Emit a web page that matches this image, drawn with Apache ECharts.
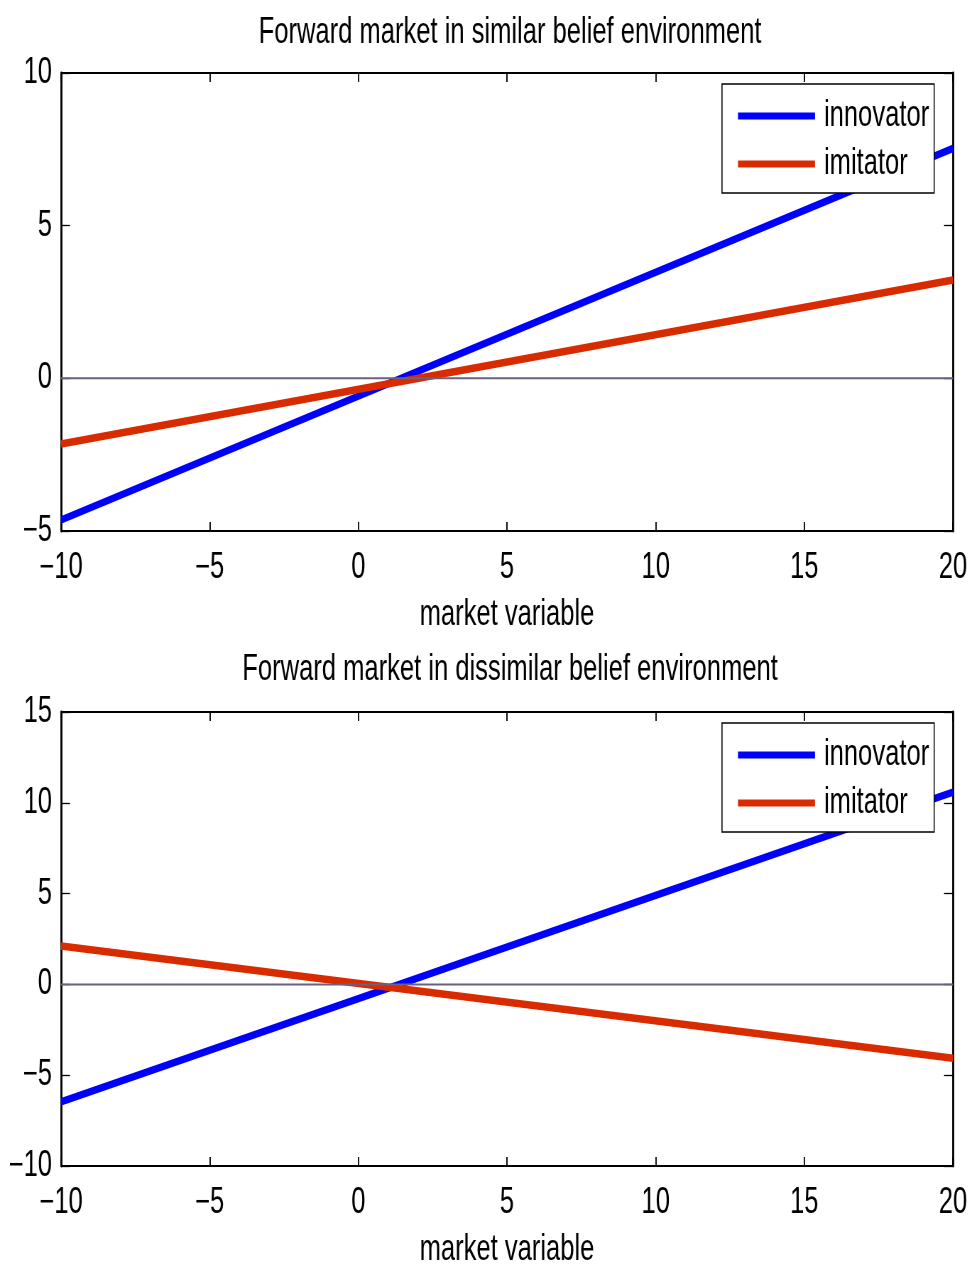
<!DOCTYPE html>
<html>
<head>
<meta charset="utf-8">
<script src="https://cdn.jsdelivr.net/npm/echarts@6/dist/echarts.min.js"></script>
<style>
  html, body { margin: 0; padding: 0; background: #fff; overflow: hidden; width: 972px; height: 1264px; }
  /* The figure uses a condensed face; the canvas is drawn wide and squeezed horizontally. */
  #chart { height: 1264px; transform-origin: 0 0; }
</style>
</head>
<body>
<div id="chart"></div>
<script>
// Market variable range (x) shared by both panels
const xEnds = [-10, 20];

// Panel 1: similar belief environment
const innovatorSimilar = [-4.64, 7.53];
const imitatorSimilar = [-2.15, 3.22];

// Panel 2: dissimilar belief environment
const innovatorDissimilar = [-6.47, 10.59];
const imitatorDissimilar = [2.12, -4.07];

// Reference zero line
const zeroLine = [0, 0];

const titles = [
  'Forward market in similar belief environment',
  'Forward market in dissimilar belief environment'
];
const xName = 'market variable';
const seriesNames = ['innovator', 'imitator'];
const yRanges = [[-5, 10, 5], [-10, 15, 5]];
const xRange = [-10, 20, 5];

// Horizontal condensing factor for the whole figure
const K = 0.71;
const sx = (v) => v / K;
const el = document.getElementById('chart');
el.style.width = sx(972) + 'px';
el.style.transform = 'scaleX(' + K + ')';

const FONT = "'Liberation Sans', Arial, sans-serif";
const FS = 36;
const BLUE = '#0000ff';
const RED = '#d92b00';

const pairs = (ys) => xEnds.map((x, i) => [x, ys[i]]);
const minus = (v) => String(v).replace('-', '\u2212');

const grids = [
  { left: sx(61), right: sx(19), top: 73, height: 458, outerBoundsMode: 'none', containLabel: false },
  { left: sx(61), right: sx(19), top: 712, height: 454, outerBoundsMode: 'none', containLabel: false }
];

const xAxes = [];
const yAxes = [];
grids.forEach((g, gi) => {
  const xTick = { show: true, inside: true, length: 9, lineStyle: { color: '#000', width: sx(1.3) } };
  const yTick = { show: true, inside: true, length: sx(9), lineStyle: { color: '#000', width: 1.3 } };
  const xLine = { show: true, onZero: false, lineStyle: { color: '#000', width: 2 } };
  const yLine = { show: true, onZero: false, lineStyle: { color: '#000', width: sx(2) } };
  xAxes.push({
    type: 'value', gridIndex: gi, position: 'bottom',
    min: xRange[0], max: xRange[1], interval: xRange[2],
    axisLine: xLine, axisTick: xTick, splitLine: { show: false },
    axisLabel: { margin: 19, fontFamily: FONT, fontSize: FS, color: '#000', formatter: minus },
    name: xName, nameLocation: 'middle', nameGap: 66,
    nameTextStyle: { fontFamily: FONT, fontSize: FS, color: '#000' }
  });
  xAxes.push({
    type: 'value', gridIndex: gi, position: 'top',
    min: xRange[0], max: xRange[1], interval: xRange[2],
    axisLine: xLine, axisTick: xTick, splitLine: { show: false },
    axisLabel: { show: false }
  });
  const yr = yRanges[gi];
  yAxes.push({
    type: 'value', gridIndex: gi, position: 'left',
    min: yr[0], max: yr[1], interval: yr[2],
    axisLine: yLine, axisTick: yTick, splitLine: { show: false },
    axisLabel: { margin: sx(9), fontFamily: FONT, fontSize: FS, color: '#000', formatter: minus }
  });
  yAxes.push({
    type: 'value', gridIndex: gi, position: 'right',
    min: yr[0], max: yr[1], interval: yr[2],
    axisLine: yLine, axisTick: yTick, splitLine: { show: false },
    axisLabel: { show: false }
  });
});

const lineSeries = (name, data, color, gi) => ({
  name, type: 'line', xAxisIndex: gi * 2, yAxisIndex: gi * 2,
  data: pairs(data), symbol: 'none', showSymbol: false, silent: true,
  lineStyle: { color, width: 7.5 }, itemStyle: { color }, z: 3
});
const zeroSeries = (gi) => ({
  name: 'zero', type: 'line', xAxisIndex: gi * 2, yAxisIndex: gi * 2,
  data: pairs(zeroLine), symbol: 'none', silent: true,
  lineStyle: { color: '#6a6080', width: 2 }, z: 4
});

const legendFor = (top) => ({
  data: seriesNames, orient: 'vertical', left: sx(722), top,
  icon: 'rect', itemWidth: sx(77), itemHeight: 7, itemGap: 8,
  padding: [12, sx(5), 9, sx(16)],
  borderColor: '#000', borderWidth: 1.5, backgroundColor: '#fff',
  selectedMode: false, z: 10,
  textStyle: { fontFamily: FONT, fontSize: FS, color: '#000', lineHeight: 40, padding: [0, 0, 0, sx(9) - 5] }
});

const titleText = (text, y) => ({
  type: 'text', x: sx(510), y,
  style: { text, fontFamily: FONT, fontSize: FS, fill: '#000', align: 'center', verticalAlign: 'middle' }
});

const chart = echarts.init(el, null, { renderer: 'canvas' });
chart.setOption({
  animation: false,
  backgroundColor: '#fff',
  grid: grids,
  xAxis: xAxes,
  yAxis: yAxes,
  legend: [legendFor(84), legendFor(723)],
  graphic: [titleText(titles[0], 33), titleText(titles[1], 670)],
  series: [
    lineSeries(seriesNames[0], innovatorSimilar, BLUE, 0),
    lineSeries(seriesNames[1], imitatorSimilar, RED, 0),
    zeroSeries(0),
    lineSeries(seriesNames[0], innovatorDissimilar, BLUE, 1),
    lineSeries(seriesNames[1], imitatorDissimilar, RED, 1),
    zeroSeries(1)
  ]
});
</script>
</body>
</html>
